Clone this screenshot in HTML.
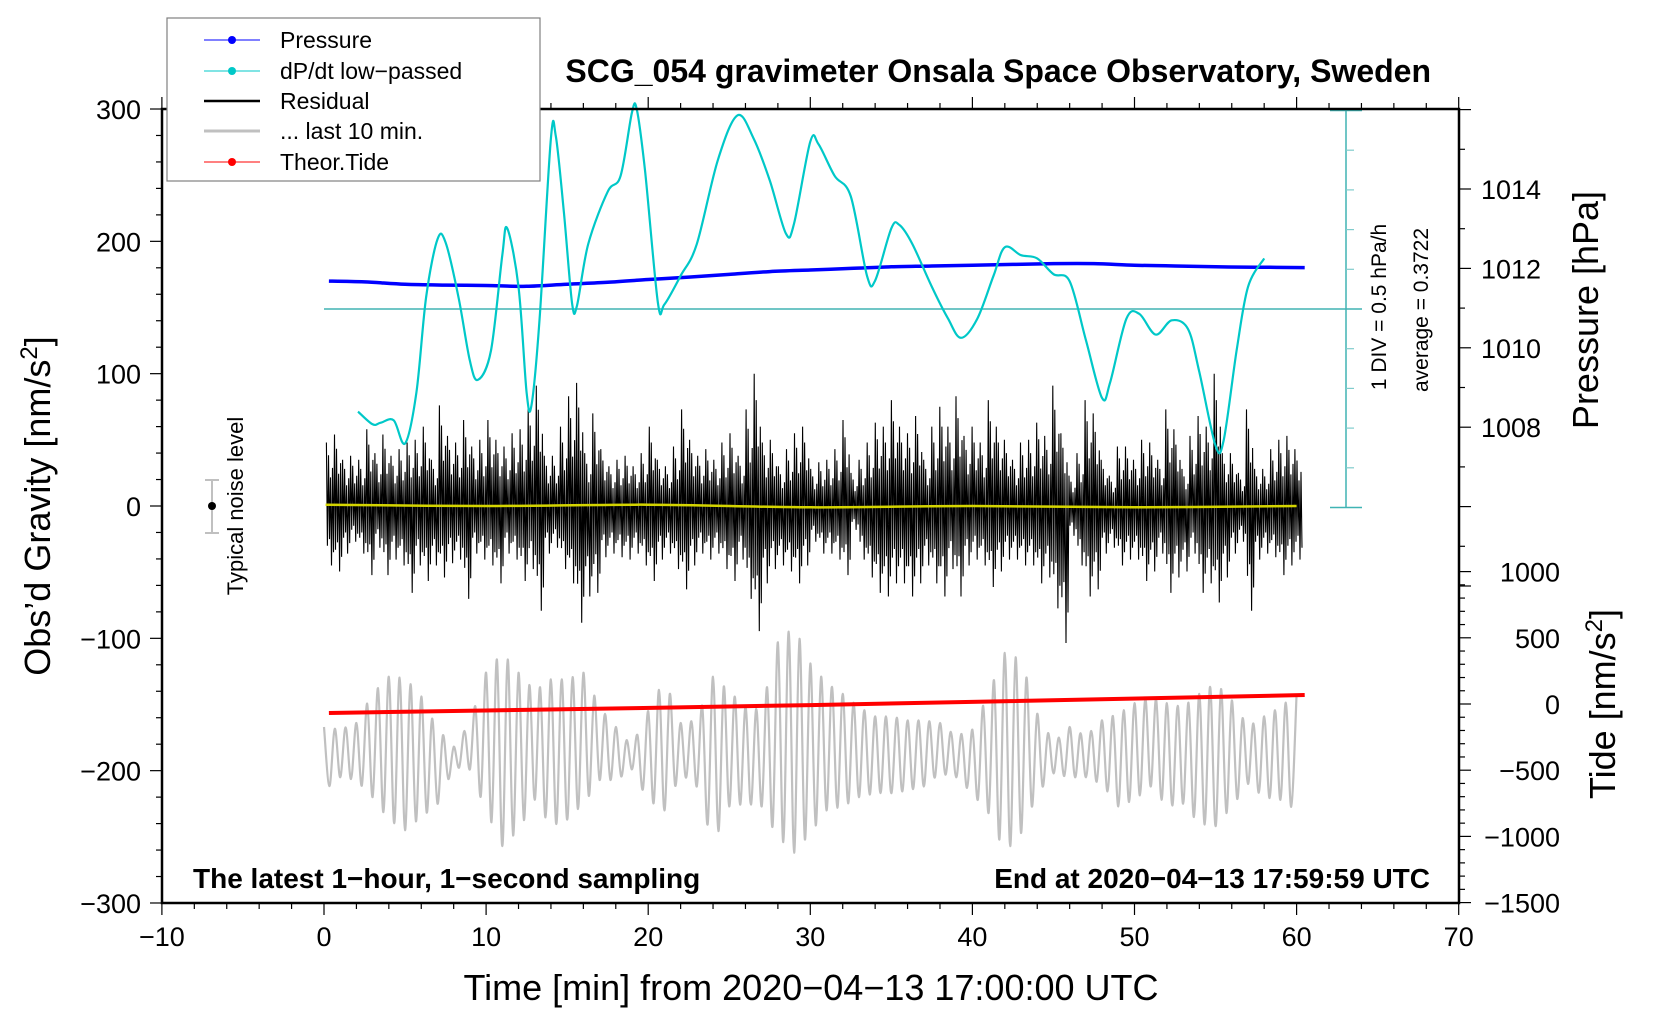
<!DOCTYPE html>
<html><head><meta charset="utf-8"><style>
html,body{margin:0;padding:0;background:#fff}
svg{display:block;font-family:"Liberation Sans",sans-serif}
</style></head><body>
<svg id="chart" width="1660" height="1020" viewBox="0 0 1660 1020" xmlns="http://www.w3.org/2000/svg">
<g id="axes"></g>
<g id="series"></g>
<rect x="162" y="109" width="1297" height="794" fill="none" stroke="#000" stroke-width="2.5"/>
<text x="1431" y="82" text-anchor="end" font-size="32" font-weight="bold">SCG_054 gravimeter Onsala Space Observatory, Sweden</text>
<text x="193" y="888" font-size="28" font-weight="bold">The latest 1−hour, 1−second sampling</text>
<text x="1430" y="888" text-anchor="end" font-size="28" font-weight="bold">End at 2020−04−13 17:59:59 UTC</text>
<text x="811" y="1000" text-anchor="middle" font-size="36">Time [min] from 2020−04−13 17:00:00 UTC</text>
<text transform="translate(50,506) rotate(-90)" text-anchor="middle" font-size="36">Obs’d Gravity [nm/s<tspan font-size="24" dy="-13">2</tspan><tspan dy="13">]</tspan></text>
<text transform="translate(1598,310) rotate(-90)" text-anchor="middle" font-size="36">Pressure [hPa]</text>
<text transform="translate(1615,704) rotate(-90)" text-anchor="middle" font-size="36">Tide [nm/s<tspan font-size="24" dy="-13">2</tspan><tspan dy="13">]</tspan></text>
<text transform="translate(1386,307) rotate(-90)" text-anchor="middle" font-size="21">1 DIV = 0.5 hPa/h</text>
<text transform="translate(1428,310) rotate(-90)" text-anchor="middle" font-size="21">average = 0.3722</text>
<g>
<line x1="212" y1="480" x2="212" y2="533" stroke="#c0c0c0" stroke-width="2"/>
<line x1="205" y1="480" x2="219" y2="480" stroke="#c0c0c0" stroke-width="2"/>
<line x1="205" y1="533" x2="219" y2="533" stroke="#c0c0c0" stroke-width="2"/>
<circle cx="212" cy="506" r="4" fill="#000"/>
<text transform="translate(243,506) rotate(-90)" text-anchor="middle" font-size="22">Typical noise level</text>
</g>
<g>
<rect x="167" y="18" width="373" height="163" fill="#fff" stroke="#808080" stroke-width="1.2"/>
<g><line x1="204" y1="40" x2="260" y2="40" stroke="#0000ff" stroke-width="1"/><circle cx="232" cy="40" r="4" fill="#0000ff"/><text x="280" y="48" font-size="23">Pressure</text></g>
<g><line x1="204" y1="71" x2="260" y2="71" stroke="#00c8c8" stroke-width="1"/><circle cx="232" cy="71" r="4" fill="#00c8c8"/><text x="280" y="79" font-size="23">dP/dt low−passed</text></g>
<g><line x1="204" y1="101" x2="260" y2="101" stroke="#000" stroke-width="2.5"/><text x="280" y="109" font-size="23">Residual</text></g>
<g><line x1="204" y1="131" x2="260" y2="131" stroke="#c0c0c0" stroke-width="3"/><text x="280" y="139" font-size="23">... last 10 min.</text></g>
<g><line x1="204" y1="162" x2="260" y2="162" stroke="#ff0000" stroke-width="1"/><circle cx="232" cy="162" r="4" fill="#ff0000"/><text x="280" y="170" font-size="23">Theor.Tide</text></g>
</g>
</svg>
<script>
// ---- data ----
const xTicks = [-10,0,10,20,30,40,50,60,70];
const yTicks = [300,200,100,0,-100,-200,-300];
const pTicks = [1014,1012,1010,1008];
const tideTicks = [1000,500,0,-500,-1000,-1500];
const pressTimes = [0.3,2.5,5,7.5,10,12.5,15,17.5,20,22.5,25,27.5,30,32.5,35,37.5,40,42.5,45,47.5,50,52.5,55,57.5,60.5];
const pressVals = [1011.68,1011.66,1011.6,1011.58,1011.57,1011.55,1011.6,1011.65,1011.72,1011.78,1011.85,1011.92,1011.96,1012.0,1012.04,1012.06,1012.08,1012.1,1012.12,1012.12,1012.08,1012.06,1012.04,1012.03,1012.02];
const dpTimes = [2.1,3,3.5,4.3,5,5.7,6.3,7,7.5,8.3,9,9.5,10.3,11,11.3,12,12.5,12.8,13.3,14,14.3,14.8,15.3,15.6,16.3,17.5,18.3,19,19.3,19.8,20.6,21,22,23,24.3,25.5,26.5,27.5,28.5,29,30,30.5,31.5,32.5,33.5,34,35,35.5,36.3,37.5,38.5,39.3,40.3,41.3,42,43,44,45,46,47,48,48.5,49.5,50.3,51.3,52.3,53.3,54,55,55.5,56.3,57,58];
const dpVals = [-0.92,-1.08,-1.06,-1.03,-1.32,-0.68,0.52,1.25,1.21,0.52,-0.28,-0.52,-0.15,1.05,1.39,0.65,-0.68,-0.84,0.25,2.52,2.55,1.59,0.45,0.41,1.19,1.85,2.05,2.85,2.88,2.12,0.45,0.43,0.79,1.19,2.25,2.81,2.52,1.99,1.32,1.45,2.48,2.45,2.05,1.79,0.79,0.73,1.39,1.43,1.19,0.65,0.25,0.01,0.25,0.79,1.15,1.05,1.01,0.81,0.72,-0.02,-0.75,-0.55,0.25,0.31,0.05,0.23,0.12,-0.42,-1.35,-1.28,-0.15,0.65,1.01];
const dpAverage = 0.3722;
const resHi = [48,54,35,38,35,58,40,54,38,43,48,50,60,35,76,53,48,65,45,50,65,50,45,55,58,76,91,38,38,60,83,93,40,70,43,30,35,38,30,40,60,35,30,45,73,50,38,43,35,48,55,38,73,100,48,50,30,43,55,60,
28,33,35,43,65,25,35,48,63,60,80,60,55,68,35,60,75,60,83,53,60,48,80,60,50,35,48,50,63,53,91,55,23,40,80,70,35,23,45,45,35,50,48,35,73,58,28,53,68,60,100,40,40,25,73,28,28,43,50,53,43];
const resLo = [-50,-55,-40,-30,-40,-58,-35,-58,-45,-50,-73,-50,-63,-50,-60,-48,-45,-78,-40,-45,-50,-65,-40,-45,-63,-53,-88,-40,-35,-53,-65,-98,-76,-73,-43,-40,-43,-45,-40,-50,-63,-45,-40,-53,-70,-50,-40,-45,-40,-53,-63,-45,-78,-105,-65,-53,-50,-55,-65,-50,
-30,-40,-40,-45,-58,-20,-45,-60,-73,-76,-65,-65,-76,-65,-50,-65,-76,-53,-76,-50,-45,-50,-68,-55,-45,-45,-50,-50,-65,-60,-86,-115,-25,-50,-76,-70,-40,-35,-50,-45,-45,-63,-55,-40,-73,-60,-55,-40,-73,-65,-81,-60,-40,-30,-88,-45,-40,-43,-58,-50,-45];
const grayHi = [-167,-169,-164,-142,-129,-130,-144,-169,-182,-164,-126,-111,-126,-140,-131,-131,-126,-152,-167,-182,-155,-131,-164,-162,-129,-140,-152,-154,-103,-91,-119,
-134,-142,-152,-159,-159,-162,-162,-164,-174,-169,-142,-111,-116,-157,-179,-167,-174,-162,-157,-149,-144,-149,-152,-142,-134,-147,-167,-159,-152,-142];
const grayLo = [-215,-205,-207,-220,-237,-245,-235,-225,-197,-199,-230,-257,-245,-222,-242,-237,-225,-207,-207,-199,-222,-230,-202,-212,-255,-227,-225,-227,-250,-262,-247,
-230,-227,-220,-217,-217,-215,-212,-202,-205,-217,-232,-262,-247,-217,-202,-205,-205,-210,-227,-222,-212,-227,-225,-240,-242,-227,-210,-220,-222,-230];
const tideTimes = [0.3,30,60.5];
const tideVals = [-68,-8,68];
const yellowTimes = [0.1,10,20,30,40,50,60];
const yellowVals = [1,0,1,-1,0,-1,0];

// ---- scales ----
const X = t => 324 + t*16.21;
const Y = v => 506 - v*1.3233;
const P = p => 189 + (1014-p)*39.7;
const T = v => 704 - v*0.1324;
const C = v => 309 - (v-dpAverage)*79.4;
const NS = 'http://www.w3.org/2000/svg';
const axes = document.getElementById('axes');
const series = document.getElementById('series');
function mk(tag, attrs, parent){const e=document.createElementNS(NS,tag);for(const k in attrs)e.setAttribute(k,attrs[k]);parent.appendChild(e);return e;}
function smooth(pts){let d='M'+pts[0][0].toFixed(1)+','+pts[0][1].toFixed(1);
for(let i=0;i<pts.length-1;i++){const p0=pts[Math.max(0,i-1)],p1=pts[i],p2=pts[i+1],p3=pts[Math.min(pts.length-1,i+2)];
const c1=[p1[0]+(p2[0]-p0[0])/6,p1[1]+(p2[1]-p0[1])/6],c2=[p2[0]-(p3[0]-p1[0])/6,p2[1]-(p3[1]-p1[1])/6];
d+='C'+c1[0].toFixed(1)+','+c1[1].toFixed(1)+' '+c2[0].toFixed(1)+','+c2[1].toFixed(1)+' '+p2[0].toFixed(1)+','+p2[1].toFixed(1);}return d;}
function interp(arr, t, step){const i=Math.min(arr.length-2,Math.max(0,Math.floor(t/step)));const f=Math.min(1,Math.max(0,t/step-i));return arr[i]*(1-f)+arr[i+1]*f;}

// ---- axes ----
for(let t=-10;t<=70;t+=2){const major=(t%10===0);
 const l1=mk('line',{x1:X(t),x2:X(t),y1:903,y2:903+(major?12:6),stroke:'#000','stroke-width':1.2},axes);
 
 
 const l2=mk('line',{x1:X(t),x2:X(t),y1:109,y2:109-(major?12:6),stroke:'#000','stroke-width':1.2},axes);
 
 }
xTicks.forEach(t=>{const e=mk('text',{x:X(t),y:946,'text-anchor':'middle','font-size':27},axes);e.textContent=String(t).replace('-','−');
 
 });
for(let v=-300;v<=300;v+=20){const major=(v%100===0);
 const l=mk('line',{x1:162,x2:162-(major?12:6),y1:Y(v),y2:Y(v),stroke:'#000','stroke-width':1.2},axes);
 
 }
yTicks.forEach(v=>{const e=mk('text',{x:141,y:Y(v)+10,'text-anchor':'end','font-size':27},axes);e.textContent=String(v).replace('-','−');
 
 });
for(let p=1004;p<=1016;p++){const l=mk('line',{x1:1459,x2:1459+(p%2===0?12:6),y1:P(p),y2:P(p),stroke:'#000','stroke-width':1.2},axes);
 
 }
pTicks.forEach(p=>{const e=mk('text',{x:1481,y:P(p)+10,'font-size':27},axes);e.textContent=p;
 
 });
for(let v=-1500;v<=1000;v+=100){const major=(v%500===0);
 const l=mk('line',{x1:1459,x2:1459+(major?12:6),y1:T(v),y2:T(v),stroke:'#000','stroke-width':1.2},axes);
 
 }
tideTicks.forEach(v=>{const e=mk('text',{x:1560,y:T(v)+10,'text-anchor':'end','font-size':27},axes);e.textContent=String(v).replace('-','−');
 
 });
// dP/dt scale axis
const cyanAx=mk('g',{},axes);


mk('line',{x1:1346,x2:1346,y1:C(dpAverage+2.5),y2:C(dpAverage-2.5),stroke:'#40b4b4','stroke-width':1.5},cyanAx);
mk('line',{x1:1330,x2:1362,y1:C(dpAverage+2.5),y2:C(dpAverage+2.5),stroke:'#40b4b4','stroke-width':1.5},cyanAx);
mk('line',{x1:1330,x2:1362,y1:C(dpAverage-2.5),y2:C(dpAverage-2.5),stroke:'#40b4b4','stroke-width':1.5},cyanAx);
for(let k=-4;k<=4;k++){if(k===0)continue;mk('line',{x1:1346,x2:1354,y1:C(dpAverage+k*0.5),y2:C(dpAverage+k*0.5),stroke:'#80cccc','stroke-width':1.2},cyanAx);}
const avgLine=mk('line',{x1:X(0),x2:1362,y1:C(dpAverage),y2:C(dpAverage),stroke:'#40b4b4','stroke-width':1.5},axes);



// ---- series ----
let gpts=[];let s=1;
for(let t=0;t<=60.001;t+=1/3){const v=s>0?interp(grayHi,t,1):interp(grayLo,t,1);gpts.push([X(t),Y(v)]);s=-s;}
const gray=mk('path',{d:smooth(gpts),fill:'none',stroke:'#c0c0c0','stroke-width':2.2},series);


// residual (dense zigzag inside per-bin envelope)
const fr=[[1,1],[0.6,0],[0.8,1],[0.5,0],[0.45,1],[0.9,0],[0.6,1],[0.7,0]];
let rd='';
resHi.forEach((h,i)=>{const t0=0.15+i*0.5*0.9958;const lo=resLo[i];
 fr.forEach((f,j)=>{const v=f[1]?h*f[0]:lo*f[0];const t=t0+j*0.0625;
  rd+=(i===0&&j===0?'M':'L')+X(t).toFixed(1)+','+Y(v).toFixed(1);});});
const res=mk('path',{d:rd,fill:'none',stroke:'#000','stroke-width':1.1},series);


const yel=mk('path',{d:smooth(yellowTimes.map((t,i)=>[X(t),Y(yellowVals[i])])),fill:'none',stroke:'#d4d400','stroke-width':2.5},series);


const tide=mk('path',{d:smooth(tideTimes.map((t,i)=>[X(t),T(tideVals[i])])),fill:'none',stroke:'#ff0000','stroke-width':4},series);


const pr=mk('path',{d:smooth(pressTimes.map((t,i)=>[X(t),P(pressVals[i])])),fill:'none',stroke:'#0000ff','stroke-width':3.5},series);


const dp=mk('path',{d:smooth(dpTimes.map((t,i)=>[X(t),C(dpVals[i])])),fill:'none',stroke:'#00c8c8','stroke-width':2.2},series);


</script>
</body></html>
